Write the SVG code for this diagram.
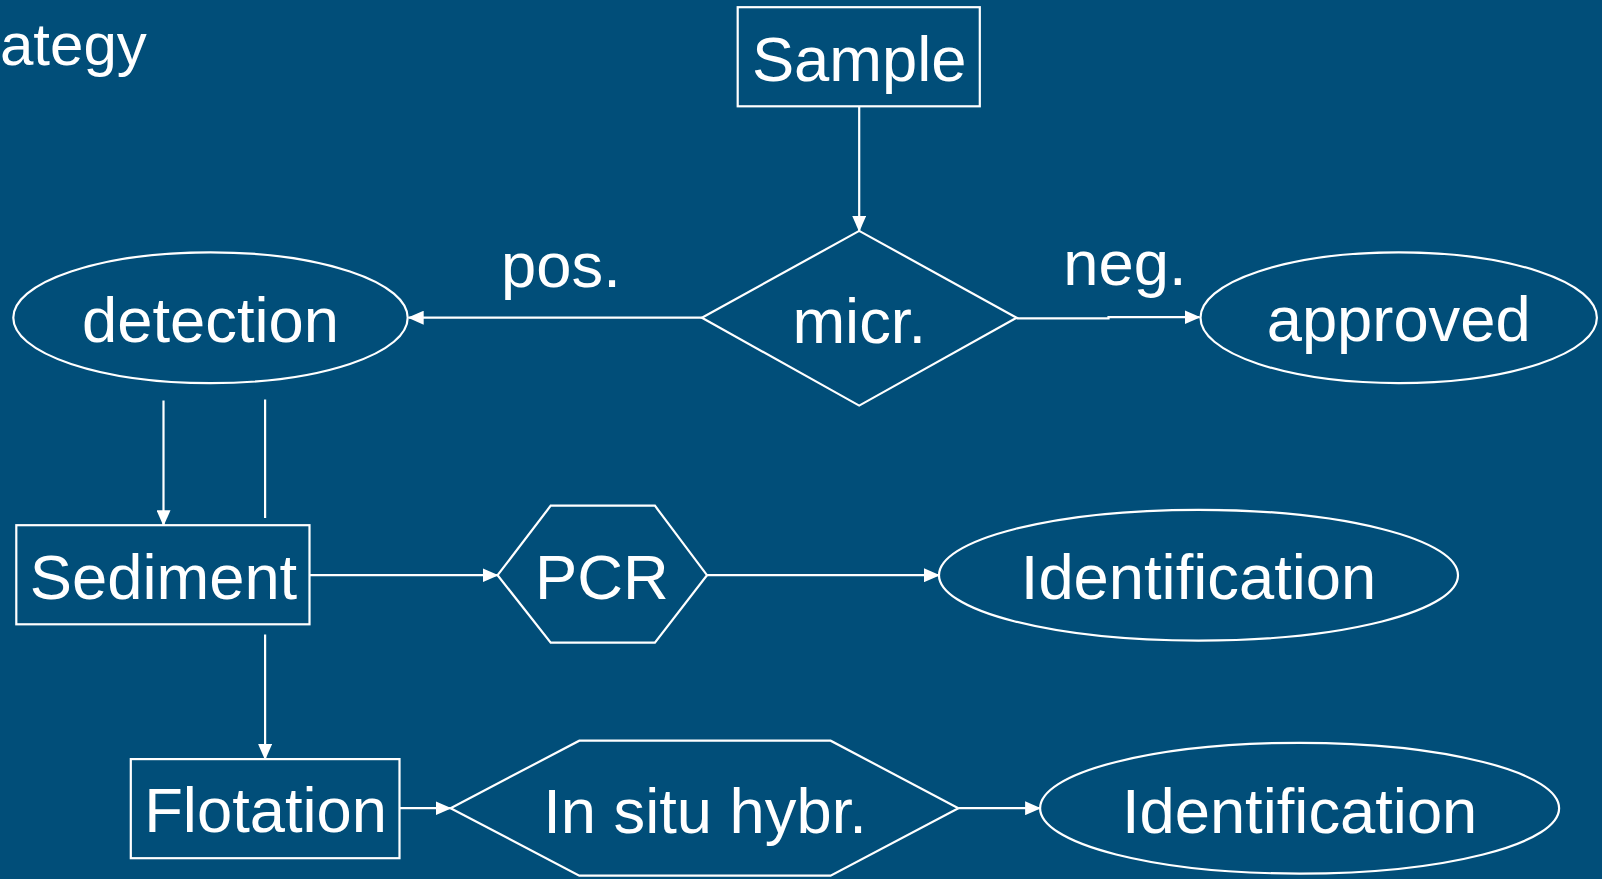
<svg xmlns="http://www.w3.org/2000/svg" width="1602" height="879" viewBox="0 0 1602 879">
<defs>
<style>
.bg{fill:#014e79}
.shape{fill:none;stroke:#ffffff;stroke-width:2.2}
.conn{fill:none;stroke:#ffffff;stroke-width:2.2}
.t{font-family:"Liberation Sans",Arial,sans-serif;font-size:63.3px;fill:#ffffff;text-anchor:middle}
</style>
<marker id="arr" markerUnits="userSpaceOnUse" markerWidth="16" markerHeight="14" refX="15" refY="7" orient="auto">
<path d="M0,0 L16,7 L0,14 Z" fill="#ffffff"/>
</marker>
</defs>
<rect class="bg" x="0" y="0" width="1602" height="879"/>
<text class="t" x="0" y="65" style="text-anchor:start;font-size:60px">ategy</text>

<g id="connectors">
<line class="conn" x1="859.2" y1="106.3" x2="859.2" y2="230.9" marker-end="url(#arr)"/>
<line class="conn" x1="701.9" y1="317.7" x2="408.7" y2="317.7" marker-end="url(#arr)"/>
<polyline class="conn" points="1016.6,318.3 1108.5,318.3 1108.5,317.2 1199.5,317.2" marker-end="url(#arr)"/>
<line class="conn" x1="163.5" y1="400.5" x2="163.5" y2="525.2" marker-end="url(#arr)"/>
<line class="conn" x1="265.1" y1="399.5" x2="265.1" y2="518"/>
<line class="conn" x1="309.6" y1="575.2" x2="497.6" y2="575.2" marker-end="url(#arr)"/>
<line class="conn" x1="707" y1="575.2" x2="939" y2="575.2" marker-end="url(#arr)"/>
<line class="conn" x1="265.1" y1="634.5" x2="265.1" y2="759.1" marker-end="url(#arr)"/>
<line class="conn" x1="399.5" y1="808.2" x2="450.6" y2="808.2" marker-end="url(#arr)"/>
<line class="conn" x1="958.4" y1="808.2" x2="1040.1" y2="808.2" marker-end="url(#arr)"/>
</g>

<g id="sample">
<rect class="shape" x="737.7" y="7.2" width="242.1" height="99.1"/>
<text class="t" x="859.2" y="80.7">Sample</text>
</g>
<g id="micr">
<polygon class="shape" points="701.9,317.7 859.2,230.9 1016.6,317.7 859.2,405.6"/>
<text class="t" x="859.2" y="343.3">micr.</text>
</g>
<g id="pos-label"><text class="t" x="560.9" y="287.1">pos.</text></g>
<g id="neg-label"><text class="t" x="1124.9" y="285.1">neg.</text></g>
<g id="detection">
<ellipse class="shape" cx="210.5" cy="317.7" rx="197.2" ry="65.4"/>
<text class="t" x="210.5" y="342.3">detection</text>
</g>
<g id="approved">
<ellipse class="shape" cx="1398.7" cy="317.7" rx="198.2" ry="65.4"/>
<text class="t" x="1398.7" y="341.2">approved</text>
</g>
<g id="sediment">
<rect class="shape" x="16.3" y="525.2" width="293.2" height="99.1"/>
<text class="t" x="163.5" y="598.7">Sediment</text>
</g>
<g id="pcr">
<polygon class="shape" points="497.6,575.2 550.7,505.7 654.9,505.7 707,575.2 654.9,642.6 550.7,642.6"/>
<text class="t" x="601.8" y="598.7">PCR</text>
</g>
<g id="identification1">
<ellipse class="shape" cx="1198.5" cy="575.2" rx="259.5" ry="65.4"/>
<text class="t" x="1198.5" y="598.7">Identification</text>
</g>
<g id="flotation">
<rect class="shape" x="130.8" y="759.1" width="268.7" height="99.1"/>
<text class="t" x="265.6" y="831.7">Flotation</text>
</g>
<g id="insitu">
<polygon class="shape" points="450.6,808.2 579.3,740.7 830.6,740.7 958.4,808.2 830.6,875.6 579.3,875.6"/>
<text class="t" x="705" y="832.7">In situ hybr.</text>
</g>
<g id="identification2">
<ellipse class="shape" cx="1299.6" cy="808.2" rx="259.5" ry="65.4"/>
<text class="t" x="1299.6" y="832.7">Identification</text>
</g>
</svg>
